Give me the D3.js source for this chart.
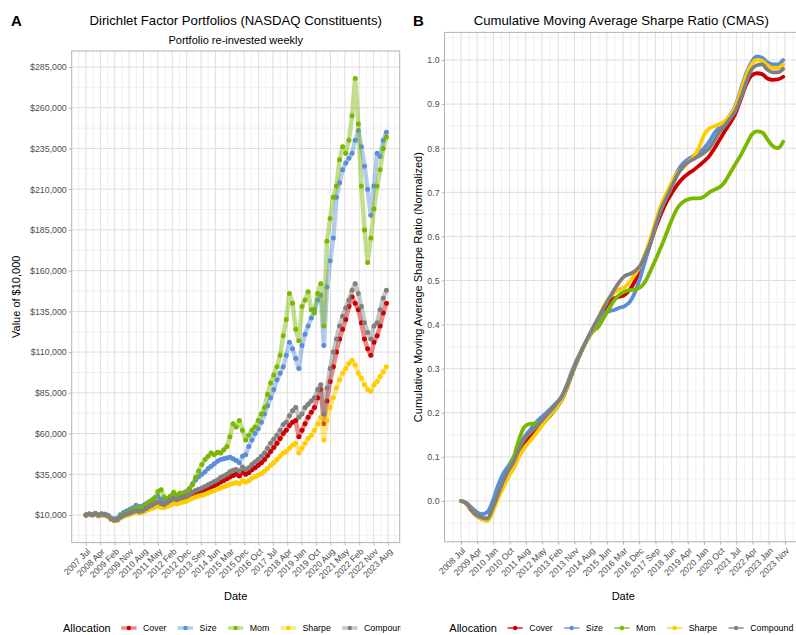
<!DOCTYPE html>
<html><head><meta charset="utf-8">
<script src="https://cdn.jsdelivr.net/npm/d3@7"></script>
<style>body{margin:0;background:#fff} text{font-family:"Liberation Sans",Arial,sans-serif}</style>
</head><body><svg id="c" width="796" height="635"></svg>
<script>
// ---------------- DATA ----------------
const seriesNames = ["Cover","Size","Mom","Sharpe","Compound"];
const seriesColors = ["#CC0000","#5B8ED8","#7AB800","#FFCC00","#808080"];

const leftTickLabels = ["2007 Jul","2008 Apr","2009 Feb","2009 Nov","2010 Aug","2011 May","2012 Feb","2012 Dec","2013 Sep","2014 Jun","2015 Mar","2015 Dec","2016 Oct","2017 Jul","2018 Apr","2019 Jan","2019 Oct","2020 Aug","2021 May","2022 Feb","2022 Nov","2023 Aug"];
const rightTickLabels = ["2008 Jul","2009 Apr","2010 Jan","2010 Oct","2011 Aug","2012 May","2013 Feb","2013 Nov","2014 Aug","2015 Jun","2016 Mar","2016 Dec","2017 Sep","2018 Jun","2019 Apr","2020 Jan","2020 Oct","2021 Jul","2022 Apr","2023 Jan","2023 Nov"];
const leftYTicks = [10000,35000,60000,85000,110000,135000,160000,185000,210000,235000,260000,285000];
const rightYTicks = [0,0.1,0.2,0.3,0.4,0.5,0.6,0.7,0.8,0.9,1.0];

// Portfolio value (thousands of $), every 2 months from Jul 2007
const valCover = [
10.0,10.4,10.0,10.5,9.6,10.2,10.0,9.2,7.4,6.6,6.9,8.4,
9.5,10.2,10.8,11.5,12.3,11.8,12.2,13.2,14.3,15.2,16.3,17.0,
16.0,15.6,16.8,17.8,18.6,18.2,18.9,19.6,20.0,21.0,22.2,23.0,
23.8,24.5,25.3,26.2,27.0,28.0,29.0,30.2,31.2,32.2,33.4,34.3,
35.0,34.0,36.2,35.0,36.0,37.8,39.0,40.5,42.0,44.0,46.5,49.0,
51.5,54.0,57.0,60.0,62.0,65.0,67.0,68.0,58.0,62.0,66.0,70.0,
73.0,76.0,82.0,87.0,66.0,80.0,92.0,101.0,110.0,118.0,124.0,130.0,
138.0,144.0,140.0,136.0,128.0,118.0,112.0,108.0,116.0,120.0,126.0,134.0,
140.0];
const valSize = [
10.0,10.5,10.2,10.8,9.9,10.6,10.4,9.8,8.2,7.5,8.0,10.2,
11.5,12.5,13.5,14.5,16.0,15.0,15.5,16.8,18.0,19.0,20.5,21.5,
19.5,19.0,20.0,21.5,22.5,21.8,22.5,23.5,24.5,26.0,29.0,31.5,
33.5,35.0,36.5,38.5,40.0,41.5,43.0,44.0,44.5,45.0,45.5,44.5,
43.5,42.0,46.0,47.0,52.0,56.0,60.0,63.0,67.0,72.0,77.0,82.0,
87.0,93.0,97.0,101.0,108.0,116.0,112.0,106.0,100.0,114.0,121.0,126.0,
131.0,136.0,142.0,145.0,114.0,150.0,166.0,180.0,205.0,214.0,222.0,226.0,
229.0,232.0,240.0,246.0,236.0,224.0,210.0,194.0,212.0,232.0,230.0,240.0,
245.0];
const valMom = [
10.0,10.6,10.3,11.0,10.0,10.7,10.4,9.5,7.6,6.9,7.4,9.2,
10.4,11.2,12.0,13.0,14.5,14.0,14.5,16.0,17.5,19.0,20.5,24.5,
25.5,21.0,19.0,21.5,24.0,22.0,23.5,23.0,24.0,26.0,28.5,33.0,
37.0,41.0,44.0,46.0,48.0,47.0,48.5,48.0,50.0,52.0,58.0,66.0,
64.0,68.0,62.0,56.0,59.0,62.0,64.0,68.0,72.0,76.0,84.0,91.0,
96.0,101.0,108.0,120.0,130.0,146.0,140.0,124.0,117.0,138.0,142.0,147.0,
136.0,134.0,146.0,152.0,126.0,178.0,192.0,205.0,212.0,228.0,236.0,232.0,
240.0,255.0,278.0,250.0,212.0,185.0,165.0,180.0,198.0,212.0,222.0,235.0,
242.0];
const valSharpe = [
10.0,10.3,9.9,10.3,9.5,10.0,9.8,9.0,7.4,6.7,6.9,8.2,
9.2,9.8,10.3,11.0,11.8,11.3,11.6,12.4,13.3,14.0,14.8,15.4,
14.8,14.5,15.3,16.2,17.0,16.8,17.4,18.0,18.5,19.3,20.3,21.0,
21.6,22.2,22.8,23.5,24.3,25.0,25.8,26.6,27.4,28.0,28.8,29.4,
30.0,29.2,31.0,30.2,31.0,32.5,33.5,34.5,35.5,37.0,38.5,40.5,
42.0,44.0,46.0,48.0,49.0,51.0,53.0,54.0,48.0,51.0,54.0,57.0,
59.0,62.0,66.0,70.0,56.0,68.0,76.0,82.0,88.0,93.0,97.0,100.0,
103.0,105.0,102.0,97.0,94.0,90.0,87.0,86.0,90.0,92.0,95.0,98.0,
101.0];
const valCompound = [
10.0,10.6,10.2,10.8,9.8,10.5,10.3,9.5,7.8,7.0,7.3,8.8,
9.8,10.6,11.2,12.0,12.8,12.2,12.6,13.8,15.0,16.0,17.2,18.0,
17.0,16.5,17.8,19.0,20.0,19.5,20.2,21.0,21.5,22.5,24.0,25.0,
25.8,26.5,27.5,28.5,29.5,30.5,31.5,33.0,34.0,35.0,36.5,37.5,
38.0,37.0,39.5,38.0,39.0,41.0,42.5,44.0,46.0,48.0,51.0,54.0,
56.5,59.0,62.0,65.5,67.0,71.0,74.0,76.0,70.0,72.0,76.0,78.0,
80.0,82.0,87.0,90.0,72.0,88.0,100.0,110.0,118.0,126.0,132.0,137.0,
142.0,148.0,152.0,146.0,138.0,128.0,122.0,118.0,126.0,128.0,136.0,143.0,
148.0];

// Normalized CMAS, quarterly from Jul 2008
const cmasCover = [
0.000,-0.006,-0.022,-0.034,-0.040,-0.042,-0.020,0.010,
0.038,0.062,0.082,0.108,0.128,0.143,0.155,0.168,
0.182,0.196,0.212,0.228,0.255,0.288,0.318,0.344,
0.368,0.390,0.412,0.432,0.450,0.460,0.463,0.468,
0.480,0.500,0.525,0.555,0.590,0.625,0.655,0.680,
0.700,0.718,0.732,0.742,0.750,0.760,0.770,0.782,
0.800,0.820,0.840,0.858,0.880,0.912,0.945,0.965,
0.970,0.968,0.958,0.955,0.956,0.962];
const cmasSize = [
0.000,-0.004,-0.015,-0.025,-0.030,-0.025,0.000,0.035,
0.062,0.080,0.100,0.125,0.145,0.160,0.175,0.188,
0.198,0.210,0.222,0.236,0.262,0.295,0.322,0.346,
0.368,0.390,0.410,0.425,0.430,0.433,0.438,0.442,
0.452,0.475,0.510,0.550,0.590,0.632,0.668,0.695,
0.722,0.748,0.765,0.775,0.782,0.790,0.800,0.815,
0.835,0.848,0.860,0.876,0.898,0.935,0.970,0.995,
1.008,1.005,0.995,0.990,0.990,1.000];
const cmasMom = [
0.000,-0.005,-0.020,-0.032,-0.038,-0.040,-0.018,0.012,
0.040,0.070,0.100,0.140,0.168,0.175,0.176,0.178,
0.185,0.196,0.210,0.228,0.255,0.288,0.318,0.345,
0.368,0.385,0.395,0.415,0.435,0.455,0.468,0.475,
0.478,0.480,0.485,0.500,0.525,0.552,0.580,0.610,
0.640,0.665,0.678,0.684,0.686,0.686,0.690,0.700,
0.706,0.712,0.725,0.745,0.765,0.785,0.808,0.830,
0.838,0.836,0.820,0.805,0.800,0.815];
const cmasSharpe = [
0.000,-0.006,-0.020,-0.033,-0.042,-0.045,-0.025,0.005,
0.030,0.055,0.075,0.100,0.120,0.135,0.150,0.165,
0.182,0.198,0.212,0.230,0.258,0.290,0.320,0.345,
0.368,0.392,0.415,0.440,0.460,0.472,0.480,0.485,
0.498,0.515,0.535,0.565,0.600,0.640,0.675,0.700,
0.725,0.745,0.755,0.768,0.780,0.800,0.830,0.845,
0.850,0.855,0.862,0.875,0.895,0.930,0.965,0.990,
1.000,0.998,0.988,0.982,0.982,0.990];
const cmasCompound = [
0.000,-0.005,-0.020,-0.032,-0.038,-0.040,-0.015,0.015,
0.045,0.070,0.090,0.118,0.140,0.155,0.165,0.178,
0.192,0.205,0.220,0.235,0.260,0.290,0.320,0.345,
0.370,0.393,0.415,0.437,0.458,0.479,0.497,0.510,
0.515,0.522,0.535,0.560,0.590,0.630,0.665,0.690,
0.715,0.740,0.758,0.768,0.775,0.782,0.790,0.800,
0.818,0.838,0.852,0.868,0.886,0.915,0.950,0.978,
0.988,0.990,0.978,0.972,0.972,0.980];

// ---------------- CHART ----------------
const valueSeries = [valCover,valSize,valMom,valSharpe,valCompound];
const cmasSeries = [cmasCover,cmasSize,cmasMom,cmasSharpe,cmasCompound];

const svg = d3.select("#c");
const TXT = "#4D4D4D";
const L = {x0:71.7, x1:399.7, y0:51, y1:542.6};
const R = {x0:444.5, x1:802, y0:32.4, y1:541.8};

const leftStart = new Date(2007,6,1), leftEnd = new Date(2023,7,1);
const rightStart = new Date(2008,6,1), rightEnd = new Date(2023,10,1);
const leftDates = valCover.map((_,i)=>d3.timeMonth.offset(leftStart,2*i));
const rightDates = cmasCover.map((_,i)=>d3.timeMonth.offset(rightStart,3*i));

const xL = d3.scaleTime().domain([leftStart,leftEnd]).range([86,388]);
const yL = d3.scaleLinear().domain([10000,285000]).range([515,67]);
const xR = d3.scaleTime().domain([rightStart,rightEnd]).range([461,785]);
const yR = d3.scaleLinear().domain([0,1]).range([501,60]);

function evenDates(a,b,n){const t0=+a,t1=+b;return d3.range(n).map(i=>new Date(t0+(t1-t0)*i/(n-1)));}
const xLTicks = evenDates(leftStart,leftEnd,leftTickLabels.length);
const xRTicks = evenDates(rightStart,rightEnd,rightTickLabels.length);

function minors(px,lo,hi){
  const out=[]; const d=px[1]-px[0];
  out.push(px[0]-d/2);
  for(let i=0;i<px.length-1;i++) out.push((px[i]+px[i+1])/2);
  out.push(px[px.length-1]+d/2);
  const a=Math.min(lo,hi), b=Math.max(lo,hi);
  return out.filter(p=>p>a&&p<b);
}

function drawPanel(P, xs, ys, xTicks, xLabels, yTicks, yFmt, clipId){
  const g = svg.append("g");
  const xp = xTicks.map(xs), yp = yTicks.map(ys);
  minors(xp,P.x0,P.x1).forEach(x=>g.append("line").attr("x1",x).attr("x2",x).attr("y1",P.y0).attr("y2",P.y1).attr("stroke","#EBEBEB").attr("stroke-width",0.7));
  minors(yp,P.y0,P.y1).forEach(y=>g.append("line").attr("x1",P.x0).attr("x2",P.x1).attr("y1",y).attr("y2",y).attr("stroke","#EBEBEB").attr("stroke-width",0.7));
  xp.forEach(x=>g.append("line").attr("x1",x).attr("x2",x).attr("y1",P.y0).attr("y2",P.y1).attr("stroke","#DEDEDE").attr("stroke-width",1));
  yp.forEach(y=>g.append("line").attr("x1",P.x0).attr("x2",P.x1).attr("y1",y).attr("y2",y).attr("stroke","#DEDEDE").attr("stroke-width",1));
  svg.append("clipPath").attr("id",clipId).append("rect").attr("x",P.x0).attr("y",P.y0).attr("width",P.x1-P.x0).attr("height",P.y1-P.y0);
  const ya = d3.axisLeft(ys).tickValues(yTicks).tickFormat(yFmt).tickSize(2.75).tickPadding(2.2);
  const yg = svg.append("g").attr("transform",`translate(${P.x0},0)`).call(ya);
  yg.select(".domain").remove();
  yg.selectAll(".tick line").attr("stroke","#B3B3B3");
  yg.selectAll(".tick text").attr("fill",TXT).style("font-size","8.8px").style("font-family",'"Liberation Sans",Arial,sans-serif');
  const xa = d3.axisBottom(xs).tickValues(xTicks).tickFormat((d,i)=>xLabels[i]).tickSize(2.75).tickPadding(2.2);
  const xg = svg.append("g").attr("transform",`translate(0,${P.y1})`).call(xa);
  xg.select(".domain").remove();
  xg.selectAll(".tick line").attr("stroke","#B3B3B3");
  xg.selectAll(".tick text").attr("fill",TXT).style("font-size","8.8px").style("font-family",'"Liberation Sans",Arial,sans-serif')
    .attr("text-anchor","end").attr("y",5).attr("x",0).attr("dy","0.72em")
    .attr("transform","rotate(-45 0 5)");
  return g;
}

function drawBorder(P){
  svg.append("rect").attr("x",P.x0).attr("y",P.y0).attr("width",P.x1-P.x0).attr("height",P.y1-P.y0)
    .attr("fill","none").attr("stroke","#B3B3B3").attr("stroke-width",1);
}

// ---- Panel A ----
drawPanel(L, xL, yL, xLTicks, leftTickLabels, leftYTicks, d=>"$"+d3.format(",")(d), "clipL");
const dataL = svg.append("g").attr("clip-path","url(#clipL)");
valueSeries.forEach((arr,k)=>{
  const pts = arr.map((v,i)=>({d:leftDates[i], v:v*1000}));
  dataL.append("path").datum(pts)
    .attr("d",d3.line().x(p=>xL(p.d)).y(p=>yL(p.v)))
    .attr("fill","none").attr("stroke",seriesColors[k]).attr("stroke-opacity",0.45).attr("stroke-width",4.5)
    .attr("stroke-linejoin","round").attr("stroke-linecap","round");
  dataL.append("g").selectAll("circle").data(pts).join("circle")
    .attr("cx",p=>xL(p.d)).attr("cy",p=>yL(p.v)).attr("r",2.5).attr("fill",seriesColors[k]);
});
drawBorder(L);

// ---- Panel B ----
drawPanel(R, xR, yR, xRTicks, rightTickLabels, rightYTicks, d3.format(".1f"), "clipR");
const dataR = svg.append("g").attr("clip-path","url(#clipR)");
cmasSeries.forEach((arr,k)=>{
  const pts = arr.map((v,i)=>({d:rightDates[i], v:v}));
  dataR.append("path").datum(pts)
    .attr("d",d3.line().curve(d3.curveMonotoneX).x(p=>xR(p.d)).y(p=>yR(p.v)))
    .attr("fill","none").attr("stroke",seriesColors[k]).attr("stroke-width",3.8)
    .attr("stroke-linecap","round").attr("stroke-linejoin","round");
});
drawBorder(R);

// ---- Titles / labels ----
function txt(x,y,s,size,opts={}){
  const t = svg.append("text").attr("x",x).attr("y",y).text(s).style("font-size",size+"px")
    .attr("fill",opts.fill||"#000").attr("text-anchor",opts.anchor||"middle");
  if(opts.bold) t.style("font-weight","bold");
  if(opts.rotate) t.attr("transform",`rotate(-90 ${x} ${y})`);
  return t;
}
txt(11,26,"A",15,{bold:true,anchor:"start"});
txt(413,26,"B",15,{bold:true,anchor:"start"});
txt((L.x0+L.x1)/2,25,"Dirichlet Factor Portfolios (NASDAQ Constituents)",13.2);
txt((L.x0+L.x1)/2,44,"Portfolio re-invested weekly",11);
txt((R.x0+R.x1)/2-2,25,"Cumulative Moving Average Sharpe Ratio (CMAS)",13.2);
txt(20,(L.y0+L.y1)/2,"Value of $10,000",11,{rotate:true});
txt(422,(R.y0+R.y1)/2,"Cumulative Moving Average Sharpe Ratio (Normalized)",11,{rotate:true});
txt((L.x0+L.x1)/2,600,"Date",11);
txt((R.x0+R.x1)/2,600,"Date",11);

// ---- Legends ----
svg.append("clipPath").attr("id","legL").append("rect").attr("x",0).attr("y",560).attr("width",400.5).attr("height",80);
function legend(x0, yc, style, clip){
  const g = svg.append("g");
  if(clip) g.attr("clip-path",`url(#${clip})`);
  const t = g.append("text").attr("x",x0).attr("y",yc+4).text("Allocation").style("font-size","11px").attr("fill","#000");
  let x = x0 + t.node().getComputedTextLength() + 9.5;
  seriesNames.forEach((nm,k)=>{
    if(style==="alpha"){
      g.append("line").attr("x1",x+1).attr("x2",x+16.3).attr("y1",yc).attr("y2",yc)
        .attr("stroke",seriesColors[k]).attr("stroke-opacity",0.45).attr("stroke-width",3.5);
      g.append("circle").attr("cx",x+8.65).attr("cy",yc).attr("r",2.2).attr("fill",seriesColors[k]);
    } else {
      g.append("line").attr("x1",x+1).attr("x2",x+16.3).attr("y1",yc).attr("y2",yc)
        .attr("stroke",seriesColors[k]).attr("stroke-width",1.3);
      g.append("circle").attr("cx",x+8.65).attr("cy",yc).attr("r",2.2).attr("fill",seriesColors[k]);
    }
    const lt = g.append("text").attr("x",x+17.3+5.5).attr("y",yc+3.1).text(nm).style("font-size","8.8px").attr("fill","#000");
    x += 17.3 + 5.5 + lt.node().getComputedTextLength() + 10.3;
  });
}
legend(63, 628, "alpha", "legL");
legend(449.3, 628, "solid", null);
</script></body></html>
